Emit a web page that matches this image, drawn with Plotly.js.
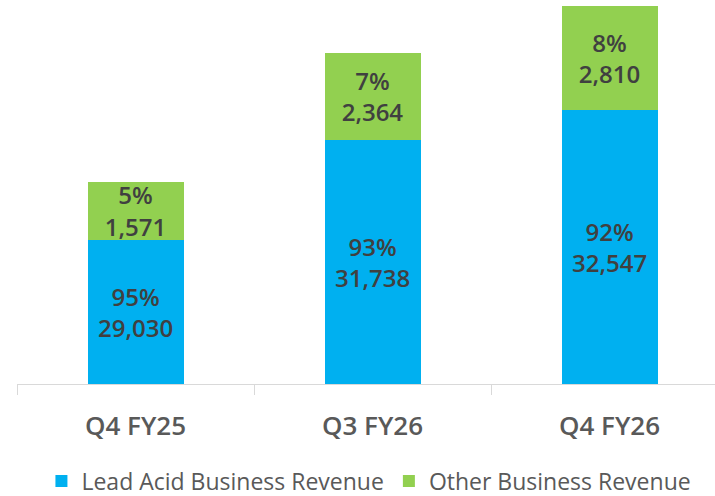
<!DOCTYPE html>
<html>
<head>
<meta charset="utf-8">
<script src="https://cdn.plot.ly/plotly-3.0.1.min.js"></script>
<style>html,body{margin:0;padding:0;background:#fff;overflow:hidden}#chart{width:715px;height:496px}</style>
</head>
<body>
<div id="chart"></div>
<script>
const categories = ["Q4 FY25", "Q3 FY26", "Q4 FY26"];
const leadAcidRevenue = [29030, 31738, 32547];
const otherRevenue = [1571, 2364, 2810];
const leadAcidPct = [95, 93, 92];
const otherPct = [5, 7, 8];
const axisMin = 25110;
const axisMax = 35530;

const labelFont = {family: "Open Sans, sans-serif", size: 24, color: "#404040", weight: 600};

const traces = [
  {
    type: "bar", name: "Lead Acid Business Revenue", x: categories, y: leadAcidRevenue,
    marker: {color: "#00B0F0"}, textposition: "none", hoverinfo: "skip"
  },
  {
    type: "bar", name: "Other Business Revenue", x: categories, y: otherRevenue,
    customdata: otherPct, marker: {color: "#92D050"},
    texttemplate: "%{customdata}%<br>%{y:,}", textposition: "inside",
    insidetextanchor: "middle", textangle: 0, textfont: labelFont, hoverinfo: "skip"
  }
];

// labels for the visible part of the (truncated) blue bars
const annotations = categories.map((c, i) => ({
  x: c, y: (axisMin + leadAcidRevenue[i]) / 2, xref: "x", yref: "y",
  text: leadAcidPct[i] + "%<br>" + leadAcidRevenue[i].toLocaleString("en-US"),
  showarrow: false, font: labelFont, xanchor: "center", yanchor: "middle"
}));

const layout = {
  width: 715, height: 496,
  margin: {l: 17, r: 0, t: 0, b: 112, autoexpand: false},
  barmode: "stack", bargap: 0.595,
  paper_bgcolor: "#fff", plot_bgcolor: "#fff",
  uniformtext: {mode: "show", minsize: 24},
  showlegend: true,
  annotations: annotations,
  legend: {
    orientation: "h", x: 0.035, xanchor: "left", y: -0.2526, yanchor: "middle",
    font: {family: "Open Sans, sans-serif", size: 23, color: "#595959"},
    traceorder: "normal"
  },
  xaxis: {
    type: "category", range: [-0.5, 2.445], tickson: "boundaries",
    ticks: "outside", ticklen: 10, tickcolor: "#d9d9d9", tickwidth: 1,
    showline: true, linecolor: "#d9d9d9", linewidth: 1, showgrid: false,
    ticklabelstandoff: 19,
    tickfont: {family: "Open Sans, sans-serif", size: 26, color: "#595959", weight: 600}
  },
  yaxis: {
    range: [axisMin, axisMax], showgrid: false, showticklabels: false,
    zeroline: false, showline: false, ticks: ""
  }
};

Plotly.newPlot("chart", traces, layout, {staticPlot: true, displayModeBar: false});
</script>
</body>
</html>
